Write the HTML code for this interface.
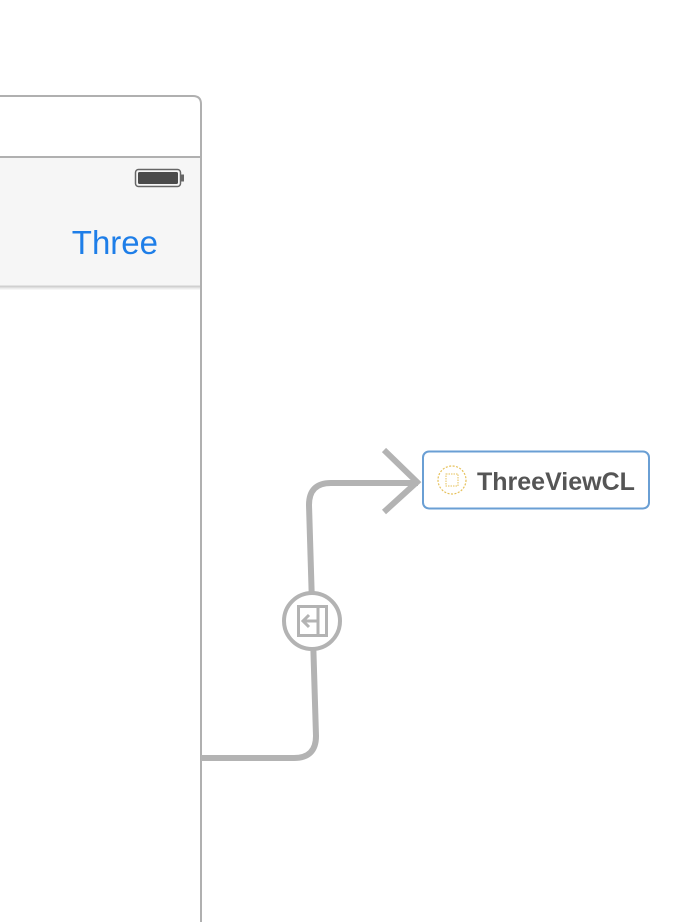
<!DOCTYPE html>
<html><head><style>
html,body{margin:0;padding:0;background:#fff;}
svg{display:block;}
</style></head><body>
<svg width="688" height="922" viewBox="0 0 688 922" xmlns="http://www.w3.org/2000/svg">
<rect width="688" height="922" fill="#fff"/>
<path d="M-10 96 H193 Q201 96 201 104 V930" fill="#fff" stroke="#b0b0b0" stroke-width="2"/>
<rect x="-10" y="157" width="210" height="129" fill="#f6f6f6"/>
<line x1="-10" y1="157" x2="200" y2="157" stroke="#b0b0b0" stroke-width="2"/>
<line x1="-10" y1="286.5" x2="200" y2="286.5" stroke="#d0d0d0" stroke-width="2"/>
<line x1="-10" y1="288.5" x2="200" y2="288.5" stroke="#ececec" stroke-width="2"/>
<rect x="135.5" y="169.5" width="45" height="17" rx="3" fill="none" stroke="#666" stroke-width="1.5"/>
<rect x="138" y="172" width="40" height="12" rx="1.5" fill="#4a4a4a"/>
<rect x="181" y="174.5" width="3" height="7" fill="#666"/>
<text x="158" y="254" text-anchor="end" font-family="Liberation Sans, sans-serif" font-size="33" fill="#1e7ee8">Three</text>
<path d="M201 758 H294 Q316 758 316 736 L309 505 Q309 483 331 483 H418" fill="none" stroke="#b3b3b3" stroke-width="6"/>
<path d="M384 450 L417 482 L384 512" fill="none" stroke="#b3b3b3" stroke-width="6"/>
<circle cx="312" cy="621" r="28" fill="#fff" stroke="#b3b3b3" stroke-width="4"/>
<rect x="298.5" y="606.5" width="28" height="29" fill="none" stroke="#b3b3b3" stroke-width="3"/>
<line x1="318" y1="606" x2="318" y2="636" stroke="#b3b3b3" stroke-width="3"/>
<line x1="303" y1="621" x2="317" y2="621" stroke="#b3b3b3" stroke-width="3"/>
<path d="M309 615 L303 621 L309 627" fill="none" stroke="#b3b3b3" stroke-width="3"/>
<rect x="423" y="451.5" width="226" height="57" rx="6" fill="#fff" stroke="#6a9fd4" stroke-width="2"/>
<circle cx="452" cy="480" r="14" fill="none" stroke="#e6c15a" stroke-width="1.2" stroke-dasharray="2 1.5"/>
<rect x="446" y="474" width="12" height="12" fill="none" stroke="#e6c15a" stroke-width="1" stroke-dasharray="1.5 1"/>
<text x="477" y="490" font-family="Liberation Sans, sans-serif" font-weight="bold" font-size="25" fill="#555">ThreeViewCL</text>
</svg>
</body></html>
